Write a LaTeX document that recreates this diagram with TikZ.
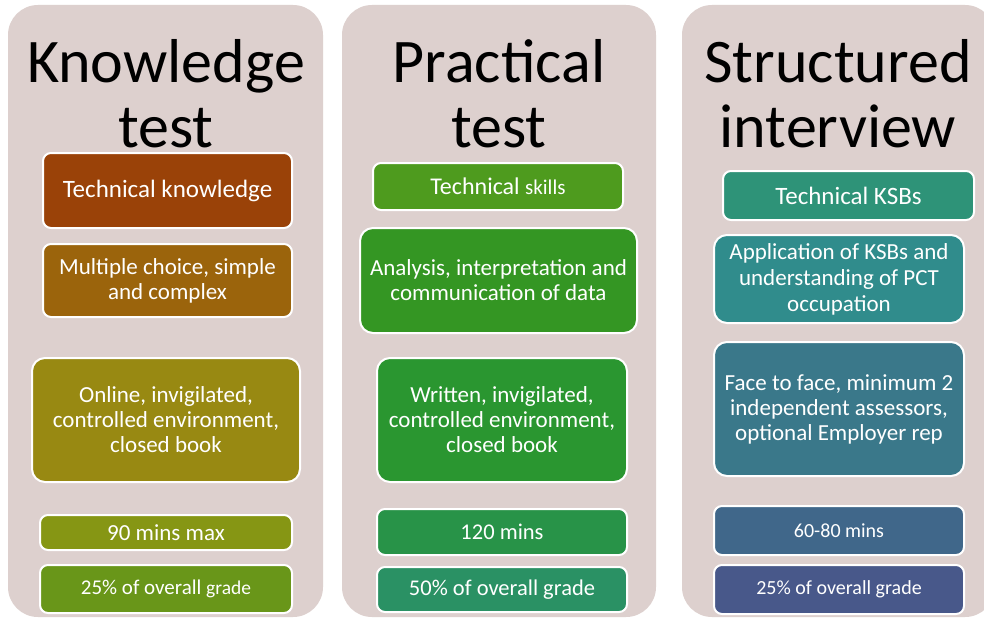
\documentclass[tikz,border=0pt]{standalone}
\usepackage{fontspec}
\setmainfont{Carlito}
\definecolor{colbg}{RGB}{221,208,206}
\definecolor{cA}{RGB}{154,66,8}
\definecolor{cB}{RGB}{155,100,12}
\definecolor{cC}{RGB}{152,137,18}
\definecolor{cD}{RGB}{134,150,20}
\definecolor{cE}{RGB}{105,150,25}
\definecolor{cF}{RGB}{78,155,30}
\definecolor{cG}{RGB}{52,150,35}
\definecolor{cH}{RGB}{42,150,48}
\definecolor{cI}{RGB}{40,147,72}
\definecolor{cJ}{RGB}{42,145,100}
\definecolor{cK}{RGB}{46,147,120}
\definecolor{cL}{RGB}{48,140,140}
\definecolor{cM}{RGB}{58,120,138}
\definecolor{cN}{RGB}{64,103,138}
\definecolor{cO}{RGB}{72,88,138}
\tikzset{
  colpanel/.style={fill=colbg, rounded corners=30pt},
  titletext/.style={anchor=base, inner sep=0pt, font=\fontsize{62}{65}\selectfont, text=black},
  box/.style={draw=white, line width=2pt, rounded corners=8pt, text=white, align=center, inner sep=0pt},
  bigbox/.style={box, rounded corners=13pt},
  fa/.style={font=\fontsize{25}{26}\selectfont},
  fb/.style={font=\fontsize{23}{25}\selectfont},
  fc/.style={font=\fontsize{22.5}{24}\selectfont},
  fd/.style={font=\fontsize{21}{22}\selectfont},
  fe/.style={font=\fontsize{20}{22}\selectfont},
}
\begin{document}
\begin{tikzpicture}[x=1pt,y=-1pt]
\useasboundingbox (0,0) rectangle (984,618);
\clip (0,0) rectangle (984,618);
\fill[white] (0,0) rectangle (984,618);
% column panels
\fill[colpanel] (8,5) rectangle (323,617);
\fill[colpanel] (342,5) rectangle (656,617);
\fill[colpanel] (682,5) rectangle (995,617);
% titles
\node[titletext] (t1a) at (166,82) {Knowledge};
\node[titletext] (t1b) at (166,147) {test};
\node[titletext] (t2a) at (499,82) {Practical};
\node[titletext] (t2b) at (499,147) {test};
\node[titletext] (t3a) at (838,82) {Structured};
\node[titletext] (t3b) at (838,147) {interview};
% column 1
\node[box, fa, fill=cA, minimum width=249pt, minimum height=75pt] (tk) at (167.5,190.5) {Technical knowledge};
\node[box, fb, fill=cB, minimum width=249pt, minimum height=73pt] (mc) at (167.5,280.5) {Multiple choice, simple\\and complex};
\node[bigbox, fb, fill=cC, minimum width=268pt, minimum height=124pt] (on) at (166,420) {Online, invigilated,\\controlled environment,\\closed book};
\node[box, fb, fill=cD, minimum width=252pt, minimum height=35pt] (m90) at (166,532.5) {90 mins max};
\node[box, fd, fill=cE, minimum width=252pt, minimum height=48pt] (g1) at (166,589) {25\% of overall {\fontsize{19.5}{20}\selectfont grade}};
% column 2
\node[box, font=\fontsize{24}{25}\selectfont, fill=cF, minimum width=250pt, minimum height=47pt] (ts) at (498,186.5) {Technical {\fontsize{21}{22}\selectfont skills}};
\node[bigbox, fb, fill=cG, minimum width=277pt, minimum height=105pt] (an) at (498.5,280.5) {Analysis, interpretation and\\communication of data};
\node[bigbox, fb, fill=cH, minimum width=250pt, minimum height=124pt] (wr) at (502,420) {Written, invigilated,\\controlled environment,\\closed book};
\node[box, fc, fill=cI, minimum width=250pt, minimum height=46pt] (m120) at (502,532) {120 mins};
\node[box, fc, fill=cJ, minimum width=250pt, minimum height=45pt] (g2) at (502,589.5) {50\% of overall grade};
% column 3
\node[box, fa, fill=cK, minimum width=251pt, minimum height=49pt] (ksb) at (848.5,195.5) {Technical KSBs};
\node[bigbox, font=\fontsize{23}{26}\selectfont, fill=cL, minimum width=250pt, minimum height=88pt] (ap) at (839,279) {Application of KSBs and\\understanding of PCT\\occupation};
\node[bigbox, fb, fill=cM, minimum width=250pt, minimum height=134pt] (ff) at (839,409) {Face to face, minimum 2\\independent assessors,\\optional Employer rep};
\node[box, fe, fill=cN, minimum width=250pt, minimum height=49pt] (m60) at (839,530.5) {60-80 mins};
\node[box, fe, fill=cO, minimum width=250pt, minimum height=49pt] (g3) at (839,589.5) {25\% of overall grade};
\end{tikzpicture}
\end{document}
